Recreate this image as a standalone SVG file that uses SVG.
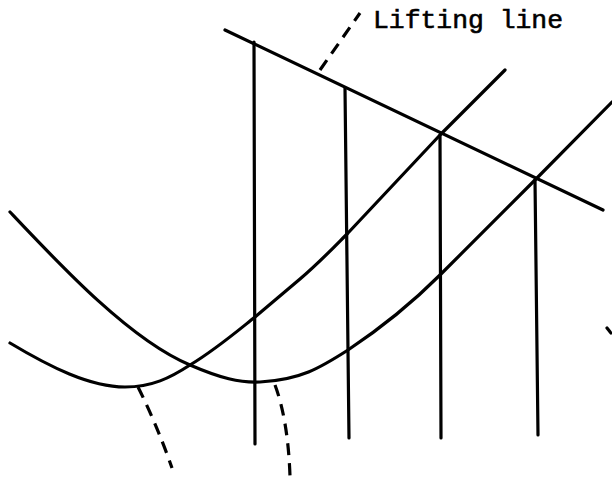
<svg xmlns="http://www.w3.org/2000/svg" width="612" height="478" viewBox="0 0 612 478">
<style>
.ln{fill:none;stroke:#000;stroke-width:3.2;stroke-linecap:round;stroke-linejoin:round}
.dash{fill:none;stroke:#000;stroke-width:3.2;stroke-dasharray:12 8}
.lbl{font-family:"Liberation Mono","Courier New",monospace;font-size:26px;fill:#000;stroke:#000;stroke-width:0.6}
</style>
<rect width="612" height="478" fill="#fff"/>
<g id="lifting-line">
<path class="ln" d="M225,30 L603,210"/>
<path class="dash" d="M320,70 L360,13" stroke-dasharray="11 7"/>
<text class="lbl" x="373" y="28" textLength="190" lengthAdjust="spacingAndGlyphs">Lifting line</text>
</g>
<g id="curves">
<path class="ln" d="M10,212 C60,265 130,340 190,365 C220,378 240,383 260,382 C300,380 320,368 348,350 C390,322 420,295 440,275 L535,180 L612,102"/>
<path class="ln" d="M10,343 C50,367 90,387 125,387 C152,387 170,378 190,365 C215,350 235,333 255,317 L300,279 C320,262 335,246 348,233 L440,135 L505,70"/>
</g>
<g id="verticals">
<path class="ln" d="M254,42 L255,444"/>
<path class="ln" d="M345,88 L349,438"/>
<path class="ln" d="M440,135 L441,438"/>
<path class="ln" d="M535,180 L538,435"/>
</g>
<g id="dashed-traces">
<path class="dash" d="M138,387 Q157,425 172,468"/>
<path class="dash" d="M275,385 Q288,420 290,476"/>
</g>
<path class="ln" d="M607,328 L611,333"/>
</svg>
